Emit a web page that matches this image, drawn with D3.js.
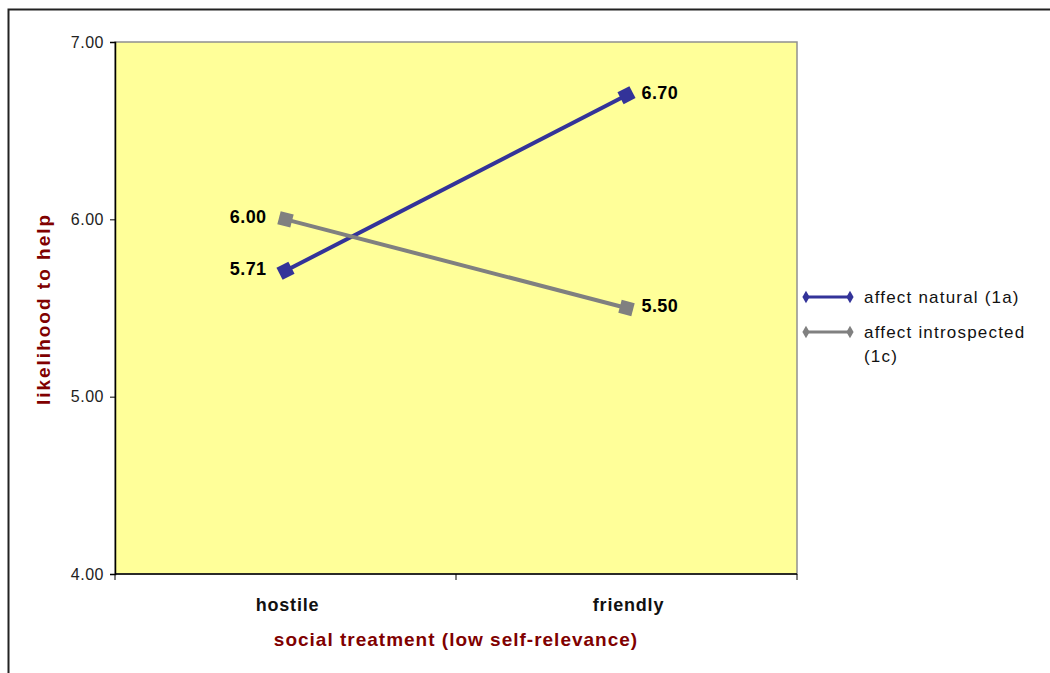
<!DOCTYPE html>
<html>
<head>
<meta charset="utf-8">
<script src="https://cdn.jsdelivr.net/npm/d3@7"></script>
<style>
  html, body { margin: 0; padding: 0; background: #fff; }
  svg { display: block; }
</style>
</head>
<body>
<svg id="chart" width="1050" height="673"></svg>
<script>
// Chart data
const categories = ["hostile", "friendly"];
const seriesNames = ["affect natural (1a)", "affect introspected (1c)"];
const naturalValues = [5.71, 6.70];
const introspectedValues = [6.00, 5.50];
const yTicks = [4.00, 5.00, 6.00, 7.00];

const seriesColors = ["#333399", "#808080"];
const series = [
  { name: seriesNames[0], values: naturalValues, color: seriesColors[0], labelSide: ["left", "right"] },
  { name: seriesNames[1], values: introspectedValues, color: seriesColors[1], labelSide: ["left", "right"] }
];

const svg = d3.select("#chart");
const font = "'Liberation Sans', Arial, sans-serif";

// Outer chart frame
svg.append("rect")
  .attr("x", 8.5).attr("y", 9.5)
  .attr("width", 1100).attr("height", 700)
  .attr("fill", "none").attr("stroke", "#222").attr("stroke-width", 2);

const plot = { left: 115, top: 42, right: 797, bottom: 574 };

const x = d3.scaleBand().domain(categories).range([plot.left, plot.right]);
const y = d3.scaleLinear().domain([4, 7]).range([plot.bottom, plot.top]);

// Plot background
svg.append("rect")
  .attr("x", plot.left).attr("y", plot.top)
  .attr("width", plot.right - plot.left).attr("height", plot.bottom - plot.top)
  .attr("fill", "#FFFF99")
  .attr("stroke", "#909090").attr("stroke-width", 1.5);

// Y axis
const yAxis = svg.append("g")
  .attr("transform", `translate(${plot.left},0)`)
  .call(d3.axisLeft(y).tickValues(yTicks).tickFormat(d3.format(".2f")).tickSize(5).tickPadding(6));
yAxis.select(".domain").attr("stroke", "#000").attr("stroke-width", 1.5);
yAxis.selectAll(".tick line").attr("stroke", "#000");
yAxis.selectAll("text")
  .attr("font-family", font)
  .attr("font-size", 16).attr("letter-spacing", 0.5).attr("fill", "#222");

// X axis: tick marks at category boundaries
const xAxis = svg.append("g")
  .attr("transform", `translate(0,${plot.bottom})`);
const bounds = [plot.left].concat(categories.map(c => x(c) + x.bandwidth()));
xAxis.append("line")
  .attr("x1", plot.left).attr("x2", plot.right)
  .attr("stroke", "#000").attr("stroke-width", 1.5);
xAxis.selectAll("line.tick").data(bounds).join("line")
  .attr("class", "tick")
  .attr("x1", d => d).attr("x2", d => d)
  .attr("y1", 0).attr("y2", 6)
  .attr("stroke", "#000");
xAxis.selectAll("text").data(categories).join("text")
  .attr("x", d => x(d) + x.bandwidth() / 2 + 2)
  .attr("y", 37)
  .attr("text-anchor", "middle")
  .attr("font-family", font).attr("font-weight", "bold")
  .attr("font-size", 18).attr("letter-spacing", 0.8).attr("fill", "#111")
  .text(d => d);

// Axis titles
svg.append("text")
  .attr("x", (plot.left + plot.right) / 2).attr("y", 646)
  .attr("text-anchor", "middle")
  .attr("font-family", font).attr("font-weight", "bold")
  .attr("font-size", 19).attr("letter-spacing", 1).attr("fill", "#800000")
  .text("social treatment (low self-relevance)");

svg.append("text")
  .attr("transform", `translate(50,309) rotate(-90)`)
  .attr("text-anchor", "middle")
  .attr("font-family", font).attr("font-weight", "bold")
  .attr("font-size", 19).attr("letter-spacing", 2).attr("fill", "#800000")
  .text("likelihood to help");

// Series lines, markers and value labels
const cx = c => x(c) + x.bandwidth() / 2;
const line = d3.line().x((d, i) => cx(categories[i])).y(d => y(d));

series.forEach(s => {
  svg.append("path")
    .datum(s.values)
    .attr("d", line)
    .attr("fill", "none")
    .attr("stroke", s.color).attr("stroke-width", 4);
});

series.forEach(s => {
  // square markers turned along the segment direction
  const dx = cx(categories[1]) - cx(categories[0]);
  const dy = y(s.values[1]) - y(s.values[0]);
  const angle = Math.atan2(dy, dx) * 180 / Math.PI;
  svg.selectAll(null).data(s.values).join("path")
    .attr("transform", (d, i) => `translate(${cx(categories[i])},${y(d)}) rotate(${angle})`)
    .attr("d", d3.symbol().type(d3.symbolSquare).size(180))
    .attr("fill", s.color);
  svg.selectAll(null).data(s.values).join("text")
    .attr("x", (d, i) => cx(categories[i]) + (s.labelSide[i] === "left" ? -19 : 15))
    .attr("y", d => y(d) + 4)
    .attr("text-anchor", (d, i) => s.labelSide[i] === "left" ? "end" : "start")
    .attr("font-family", font).attr("font-weight", "bold")
    .attr("font-size", 18).attr("letter-spacing", 0.4).attr("fill", "#000")
    .text(d => d3.format(".2f")(d));
});

// Legend
const legend = svg.append("g").attr("transform", "translate(806,297)");
const legendLines = [["affect natural (1a)"], ["affect introspected", "(1c)"]];
series.forEach((s, i) => {
  const g = legend.append("g").attr("transform", `translate(0,${i * 35})`);
  g.append("line").attr("x1", 0).attr("x2", 44)
    .attr("stroke", s.color).attr("stroke-width", 3);
  [0, 44].forEach(px => g.append("path")
    .attr("transform", `translate(${px},0)`)
    .attr("d", d3.symbol().type(d3.symbolDiamond).size(45))
    .attr("fill", s.color));
  const t = g.append("text")
    .attr("x", 58).attr("y", 6)
    .attr("font-family", font)
    .attr("font-size", 17).attr("letter-spacing", 1.2).attr("fill", "#111");
  legendLines[i].forEach((ln, j) => t.append("tspan")
    .attr("x", 58).attr("dy", j === 0 ? 0 : 24).text(ln));
});
</script>
</body>
</html>
